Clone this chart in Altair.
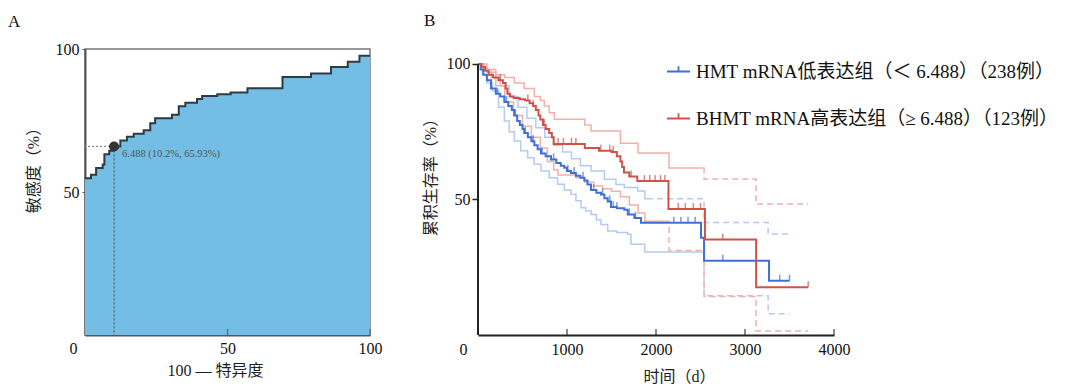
import altair as alt
import pandas as pd

SERIF = "Liberation Serif, Times New Roman, Noto Sans CJK SC"

# ---------------- Panel A : ROC curve ----------------
ROC_X = [0, 2.1, 3.9, 6.2, 6.8, 8.5, 10.2, 12.4, 14.7, 17.1, 20.6, 22.9, 24.6, 30.5,
         32.9, 35.2, 39.3, 41.1, 46.4, 51.1, 57.0, 69.3, 79.3, 86.3, 92.2, 96.3, 100]
ROC_Y = [54.8, 56.0, 58.4, 59.6, 63.2, 64.4, 65.93, 68.0, 69.3, 70.4, 71.6, 74.0, 75.8, 77.0,
         80.0, 81.2, 82.5, 83.6, 84.2, 84.8, 86.3, 90.2, 91.4, 93.7, 95.5, 97.6, 97.6]
CUT_X = [10.2]
CUT_Y = [65.93]
CUT_LABEL = ["6.488 (10.2%, 65.93%)"]
A_TICKS = [50, 100]

# ---------------- Panel B : Kaplan-Meier ----------------
GROUPS = ["HMT mRNA低表达组（＜ 6.488）（238例）", "BHMT mRNA高表达组（≥ 6.488）（123例）"]

BLUE_T = [0, 30, 60, 100, 146, 200, 250, 296, 340, 380, 408, 440, 470, 500, 520, 560, 600, 633,
          670, 708, 760, 820, 880, 930, 970, 1000, 1045, 1100, 1150, 1194, 1230, 1270, 1330,
          1382, 1420, 1457, 1494, 1560, 1644, 1682, 1757, 1831, 2506, 2540, 3270, 3500]
BLUE_S = [100, 98, 96, 94, 91, 89, 88, 86, 84.5, 83, 81, 79, 77.5, 76, 74.5, 73, 71.5, 70,
          68.5, 67, 66, 64.8, 63.5, 62.5, 61.7, 60.5, 59.8, 58.8, 58, 57, 55.5, 53.5, 52.5,
          51.8, 50.5, 49.3, 47.2, 46.8, 46.2, 44.5, 43.2, 41.4, 35.9, 27.4, 20, 20]
RED_T = [0, 40, 80, 120, 170, 230, 280, 310, 330, 360, 400, 470, 530, 580, 620, 650, 680, 700,
         730, 760, 800, 830, 850, 1200, 1360, 1500, 1560, 1600, 1620, 1640, 1700, 1790, 2140,
         2550, 3125, 3710]
RED_S = [100, 99, 97.5, 96, 95, 94, 93, 91, 89, 88, 87.5, 87, 86.5, 85.5, 84.5, 83, 81, 79.5,
         77.5, 76, 74.5, 73, 70.5, 69, 68, 67.5, 66, 64, 62, 60, 58.5, 56.8, 46.5,
         35.2, 17.6, 17.6]

BLUE_CENSOR_T = [220, 320, 420, 530, 620, 720, 850, 1010, 1080, 1180, 1300, 1400, 1480, 1520,
                 1560, 1700, 1770, 2200, 2280, 2360, 2440, 2750, 3390, 3500]
BLUE_CENSOR_S = [89, 86, 81, 74.5, 71.5, 67, 64.8, 60.5, 59.8, 58, 53.5, 51.8, 49.3, 47.2,
                 46.8, 44.5, 43.2, 41.4, 41.4, 41.4, 41.4, 27.4, 20, 20]
RED_CENSOR_T = [250, 560, 620, 745, 900, 960, 1050, 1100, 1380, 1480, 1520, 1720, 1870, 1930,
                1990, 2050, 2100, 2250, 2330, 2420, 2500, 2750, 3710]
RED_CENSOR_S = [94, 86.5, 84.5, 77.5, 70.5, 70.5, 70.5, 70.5, 68, 68, 67.5, 58.5, 56.8, 56.8,
                56.8, 56.8, 56.8, 46.5, 46.5, 46.5, 46.5, 35.2, 17.6]

# confidence bands (solid first, dashed from the given time)
BLUE_UP_T = [0, 60, 150, 250, 350, 450, 550, 650, 750, 850, 950, 1050, 1150, 1270, 1420,
             1550, 1644, 1794, 1875, 2540, 3260, 3500]
BLUE_UP_S = [100, 98, 95, 92, 88, 84, 80, 76.5, 73, 70, 67.5, 65, 62.5, 60.5, 57.5,
             55.5, 54.4, 53.1, 50.3, 41.5, 37.3, 37.3]
BLUE_UP_DASH = 1900
BLUE_LO_T = [0, 50, 100, 163, 230, 296, 350, 408, 480, 558, 630, 708, 800, 895, 970, 1045,
             1100, 1157, 1210, 1270, 1330, 1382, 1457, 1560, 1682, 1719, 1874, 2540, 3260, 3500]
BLUE_LO_S = [100, 96, 93, 90, 84, 79, 75, 71.6, 68, 65.4, 63, 60.5, 58, 55.6, 53.5, 51.9,
             49.5, 47, 45.8, 44.5, 42.5, 40.8, 38.4, 37.8, 37.2, 33.5, 30.6, 14.5, 7.8, 7.8]
BLUE_LO_DASH = 2500
RED_UP_T = [0, 50, 100, 200, 300, 408, 520, 633, 700, 745, 800, 857, 1200, 1270, 1600, 1798,
            2146, 2540, 3124, 3710]
RED_UP_S = [100, 99, 98, 96, 95, 93, 91, 88, 86.5, 84.5, 82, 79.6, 77.5, 75.3, 70.8, 67.2,
            61.6, 57.6, 48.3, 48.3]
RED_UP_DASH = 2530
RED_LO_T = [0, 100, 200, 300, 400, 500, 600, 700, 780, 850, 900, 1100, 1200, 1300, 1400, 1500,
            1600, 1700, 1800, 1875, 2146, 2540, 3124, 3710]
RED_LO_S = [100, 97, 92, 86, 81, 77, 73, 69, 64, 61, 59, 58, 56.5, 55, 54, 53, 51, 48, 45, 42,
            31.2, 14.2, 1.5, 1.5]
RED_LO_DASH = 2100
B_TICKS = [1000, 2000, 3000, 4000]

BLUE, RED = "#3F6FD8", "#CF5249"
LBLUE, LRED = "#B3CBF0", "#F2B0A9"
FILL, CURVE = "#74BEE6", "#2E3B44"


def split_band(ts, ss, dash_from, name):
    rows = []
    prev = ss[0]
    for t, s in zip(ts, ss):
        if t < dash_from:
            rows.append((t, s, name + "_s", "solid"))
            prev = s
    rows.append((dash_from, prev, name + "_s", "solid"))
    rows.append((dash_from, prev, name + "_d", "dash"))
    for t, s in zip(ts, ss):
        if t >= dash_from:
            rows.append((t, s, name + "_d", "dash"))
    return pd.DataFrame(rows, columns=["t", "s", "seg", "dash"])


roc = pd.DataFrame({"fpr": ROC_X, "tpr": ROC_Y})
cut = pd.DataFrame({"cx": CUT_X, "cy": CUT_Y, "label": CUT_LABEL})
a_ticks = pd.DataFrame({"v": A_TICKS})

xA = alt.X("fpr:Q", scale=alt.Scale(domain=[0, 100], nice=False),
           axis=alt.Axis(values=[0, 50, 100], title="100 — 特异度", ticks=False, labelPadding=5,
                         labelFlush=False, domainColor="#555", domainWidth=2, format="d",
                         labelOffset={"condition": {"test": "datum.value == 0", "value": -12}, "value": 0},
                         titlePadding=6, titleX=130))
yA = alt.Y("tpr:Q", scale=alt.Scale(domain=[0, 100], nice=False),
           axis=alt.Axis(values=[50, 100], title="敏感度（%）", tickSize=3, tickColor="#555",
                         labelPadding=3, domainColor="#555", domainWidth=2, titlePadding=14,
                         titleY=117))

areaA = alt.Chart(roc).mark_area(interpolate="step-after", color=FILL, opacity=1).encode(x=xA, y=yA)
lineA = alt.Chart(roc).mark_line(interpolate="step-after", color=CURVE, strokeWidth=2).encode(x="fpr:Q", y="tpr:Q")
hrule = alt.Chart(cut).mark_rule(color="#888", strokeDash=[2, 2], strokeWidth=1.3).encode(
    x=alt.X("cx:Q"), x2=alt.datum(0), y="cy:Q")
vrule = alt.Chart(cut).mark_rule(color="#666", strokeDash=[2, 2], strokeWidth=1.3).encode(
    x="cx:Q", y=alt.Y("cy:Q"), y2=alt.datum(0))
ptA = alt.Chart(cut).mark_circle(size=100, color="#333", opacity=1).encode(x="cx:Q", y="cy:Q")
txtA = alt.Chart(cut).mark_text(align="left", baseline="middle", dx=8, dy=8, fontSize=10.5,
                                font=SERIF, color="#555").encode(x="cx:Q", y="cy:Q", text="label:N")
tickA = alt.Chart(a_ticks).mark_tick(orient="vertical", size=6, thickness=1.5, yOffset=-3,
                                     color="#555").encode(x="v:Q", y=alt.datum(0, type="quantitative"))

panelA = alt.layer(areaA, lineA, hrule, vrule, ptA, txtA, tickA).properties(
    width=285, height=286,
    view=alt.ViewBackground(stroke="#777", strokeWidth=1.5),
    title=alt.TitleParams("A", anchor="start", offset=10, dx=-17, fontSize=17, font=SERIF,
                          fontWeight="normal", color="#111"))

# ---- panel B data
main = pd.concat([
    pd.DataFrame({"t": BLUE_T, "s": BLUE_S, "group": GROUPS[0]}),
    pd.DataFrame({"t": RED_T, "s": RED_S, "group": GROUPS[1]}),
])
blue_band = pd.concat([split_band(BLUE_UP_T, BLUE_UP_S, BLUE_UP_DASH, "bu"),
                       split_band(BLUE_LO_T, BLUE_LO_S, BLUE_LO_DASH, "bl")])
red_band = pd.concat([split_band(RED_UP_T, RED_UP_S, RED_UP_DASH, "ru"),
                      split_band(RED_LO_T, RED_LO_S, RED_LO_DASH, "rl")])
blue_cens = pd.DataFrame({"t": BLUE_CENSOR_T, "s": BLUE_CENSOR_S})
red_cens = pd.DataFrame({"t": RED_CENSOR_T, "s": RED_CENSOR_S})
b_ticks = pd.DataFrame({"v": B_TICKS})

xB = alt.X("t:Q", scale=alt.Scale(domain=[0, 4000], nice=False),
           axis=alt.Axis(values=[0, 1000, 2000, 3000, 4000], title="时间（d）", ticks=False,
                         labelPadding=6, labelFlush=False, domainColor="#222", domainWidth=2,
                         format="d",
                         labelOffset={"condition": {"test": "datum.value == 0", "value": -15}, "value": 0},
                         titlePadding=11, titleX=201))
yB = alt.Y("s:Q", scale=alt.Scale(domain=[0, 105.535], nice=False, zero=True),
           axis=alt.Axis(values=[50, 100], title="累积生存率（%）", tickSize=6, tickWidth=1.5,
                         tickColor="#222", labelPadding=2, domain=False,
                         titlePadding=8, titleY=124))
dash_scale = alt.Scale(domain=["solid", "dash"], range=[[1, 0], [6, 4]])

bandB1 = alt.Chart(blue_band).mark_line(interpolate="step-after", color=LBLUE, strokeWidth=1.5).encode(
    x=xB, y=yB, detail="seg:N", strokeDash=alt.StrokeDash("dash:N", scale=dash_scale, legend=None))
bandB2 = alt.Chart(red_band).mark_line(interpolate="step-after", color=LRED, strokeWidth=1.5).encode(
    x="t:Q", y="s:Q", detail="seg:N", strokeDash=alt.StrokeDash("dash:N", scale=dash_scale, legend=None))
mainB = alt.Chart(main).mark_line(interpolate="step-after", strokeWidth=2).encode(
    x="t:Q", y="s:Q",
    color=alt.Color("group:N", scale=alt.Scale(domain=GROUPS, range=[BLUE, RED]),
                    legend=alt.Legend(orient="none", legendX=581, legendY=10, title=None,
                                      symbolType="M-1,0H1M0,0V-0.45", symbolSize=529,
                                      symbolStrokeWidth=1.8, labelFont=SERIF, labelFontSize=19,
                                      labelColor="#111", rowPadding=24, labelOffset=5,
                                      labelLimit=500)))
censB1 = alt.Chart(blue_cens).mark_tick(orient="vertical", size=6, thickness=1.5, yOffset=-3,
                                        color=BLUE).encode(x="t:Q", y="s:Q")
censB2 = alt.Chart(red_cens).mark_tick(orient="vertical", size=6, thickness=1.5, yOffset=-3,
                                       color=RED).encode(x="t:Q", y="s:Q")
tickB = alt.Chart(b_ticks).mark_tick(orient="vertical", size=6, thickness=1.5, yOffset=-3,
                                     color="#222").encode(x="v:Q", y=alt.datum(0, type="quantitative"))
yline = alt.Chart(b_ticks).mark_rule(color="#222", strokeWidth=2).encode(
    x=alt.datum(0, type="quantitative"), y=alt.datum(0, type="quantitative"),
    y2=alt.datum(100))

panelB = alt.layer(bandB1, bandB2, mainB, censB1, censB2, tickB, yline).properties(
    width=356, height=286,
    title=alt.TitleParams("B", anchor="start", offset=19, dx=2, fontSize=17, font=SERIF,
                          fontWeight="normal", color="#111"))

chart = alt.hconcat(panelA, panelB, spacing=39).properties(
    padding={"left": 7, "top": 12, "right": 2, "bottom": 2}
).configure_view(stroke=None).configure_axis(
    grid=False, labelFont=SERIF, labelFontSize=16, labelColor="#111",
    titleFont=SERIF, titleFontSize=16, titleFontWeight="normal", titleColor="#222"
)

chart.save("out.html", embed_options={"renderer": "svg", "actions": False})
